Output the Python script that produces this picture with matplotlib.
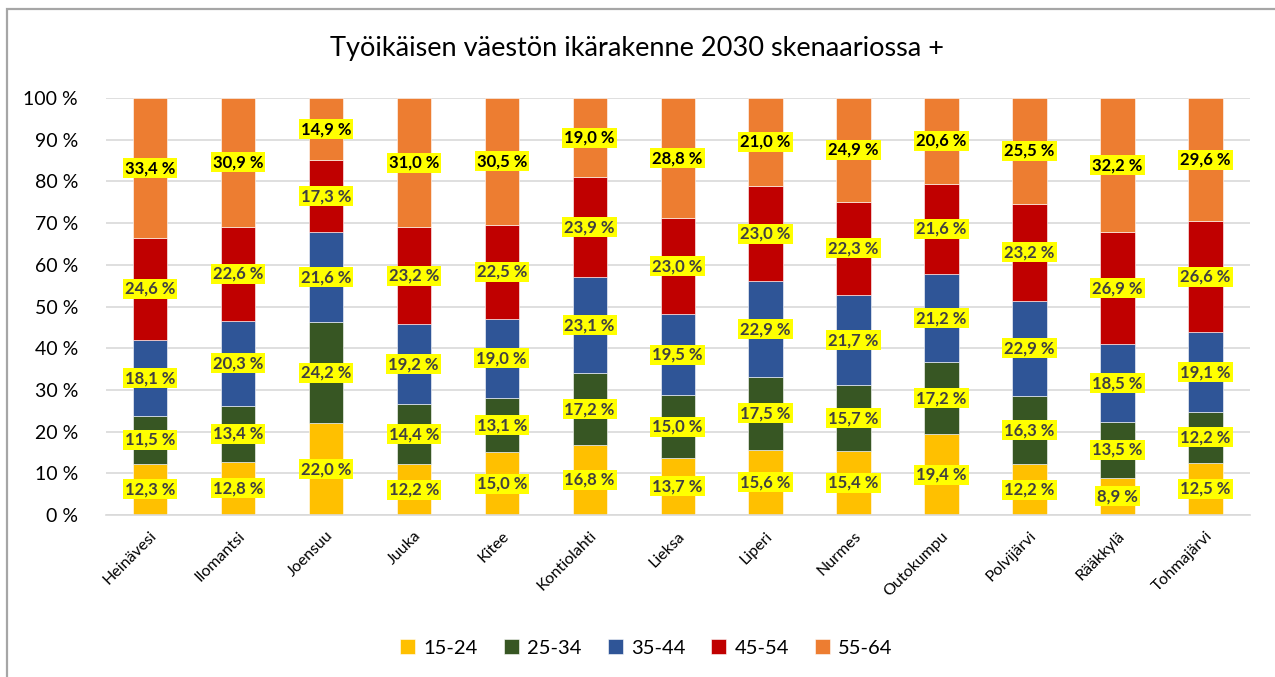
import numpy as np
import matplotlib.pyplot as plt
from matplotlib.patches import Rectangle

# Data (shares, %)
municipalities = ['Heinävesi', 'Ilomantsi', 'Joensuu', 'Juuka', 'Kitee', 'Kontiolahti',
                  'Lieksa', 'Liperi', 'Nurmes', 'Outokumpu', 'Polvijärvi', 'Rääkkylä', 'Tohmajärvi']
age_groups = ['15-24', '25-34', '35-44', '45-54', '55-64']
share_15_24 = [12.3, 12.8, 22.0, 12.2, 15.0, 16.8, 13.7, 15.6, 15.4, 19.4, 12.2, 8.9, 12.5]
share_25_34 = [11.5, 13.4, 24.2, 14.4, 13.1, 17.2, 15.0, 17.5, 15.7, 17.2, 16.3, 13.5, 12.2]
share_35_44 = [18.1, 20.3, 21.6, 19.2, 19.0, 23.1, 19.5, 22.9, 21.7, 21.2, 22.9, 18.5, 19.1]
share_45_54 = [24.6, 22.6, 17.3, 23.2, 22.5, 23.9, 23.0, 23.0, 22.3, 21.6, 23.2, 26.9, 26.6]
share_55_64 = [33.4, 30.9, 14.9, 31.0, 30.5, 19.0, 28.8, 21.0, 24.9, 20.6, 25.5, 32.2, 29.6]

series = [share_15_24, share_25_34, share_35_44, share_45_54, share_55_64]
colors = ['#FFC000', '#375623', '#2F5597', '#C00000', '#ED7D31']
label_colors = ['#404040', '#404040', '#404040', '#404040', '#000000']

plt.rcParams['font.family'] = ['Lato', 'DejaVu Sans']

fig = plt.figure(figsize=(12.75, 6.77), dpi=100)
ax = fig.add_axes([0.083, 0.2393, 0.897, 0.6159])

x = np.arange(len(municipalities))
bottom = np.zeros(len(municipalities))
for name, vals, col, lcol in zip(age_groups, series, colors, label_colors):
    vals = np.array(vals)
    ax.bar(x, vals / 100, width=0.39, bottom=bottom / 100, color=col,
           edgecolor='white', linewidth=0.4, label=name, zorder=2)
    for xi, b, v in zip(x, bottom, vals):
        ax.text(xi, (b + v / 2) / 100, f'{v:.1f} %'.replace('.', ','),
                ha='center', va='center', fontsize=12, fontweight='bold', color=lcol,
                bbox=dict(boxstyle='square,pad=0.12', facecolor='#FFFF00', edgecolor='none'),
                zorder=4)
    bottom += vals

ax.set_xlim(-0.5, len(municipalities) - 0.5)
ax.set_ylim(0, 1)
ticks = np.arange(0, 1.01, 0.1)
ax.set_yticks(ticks)
ax.set_yticklabels([f'{int(round(t * 100))} %' for t in ticks], fontsize=14)
ax.set_xticks(x)
ax.set_xticklabels(municipalities, rotation=45, ha='right', rotation_mode='anchor', fontsize=11.5)
ax.tick_params(axis='both', length=0)
ax.tick_params(axis='y', pad=20)
ax.tick_params(axis='x', pad=10)
ax.grid(axis='y', color='#D9D9D9', linewidth=1.2, zorder=0)
ax.set_axisbelow(True)
for s in ['top', 'right', 'left']:
    ax.spines[s].set_visible(False)
ax.spines['bottom'].set_color('#D9D9D9')
ax.spines['bottom'].set_linewidth(1.2)

fig.text(0.5, 0.929, 'Työikäisen väestön ikärakenne 2030 skenaariossa +',
         ha='center', va='center', fontsize=19.5)

handles, labels = ax.get_legend_handles_labels()
fig.legend(handles, labels, loc='center', bbox_to_anchor=(0.507, 0.043), ncol=5,
           frameon=False, fontsize=14.5, handlelength=0.75, handleheight=0.75,
           handletextpad=0.4, columnspacing=1.3)

# chart frame
fig.patches.append(Rectangle((7 / 1275, -0.1), 1.2, 0.1 + (1 - 9 / 677),
                             transform=fig.transFigure, fill=False,
                             edgecolor='#A6A6A6', linewidth=1.6))

fig.savefig('out.png', dpi=100)
